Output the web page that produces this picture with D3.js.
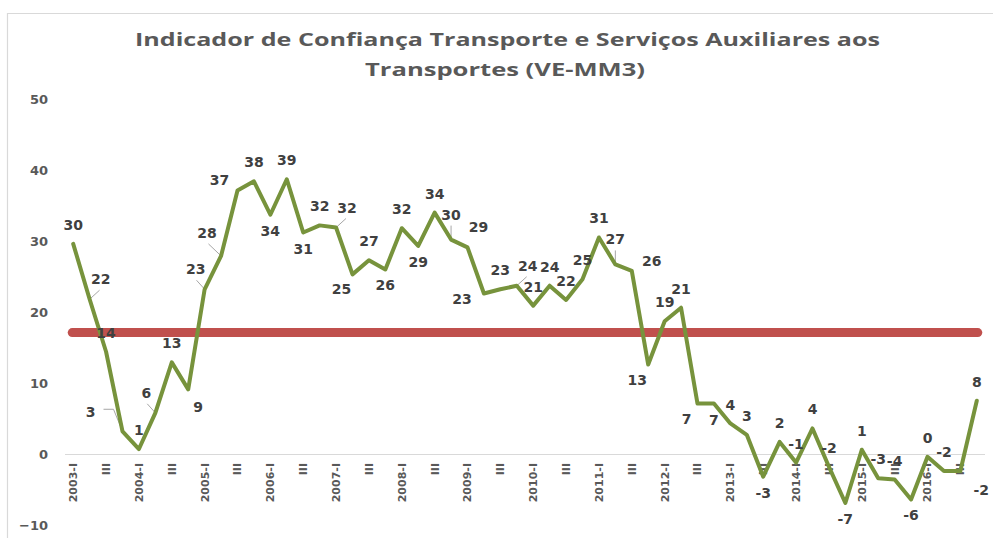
<!DOCTYPE html>
<html>
<head>
<meta charset="utf-8">
<script src="https://cdn.jsdelivr.net/npm/d3@7"></script>
<style>
  html, body { margin: 0; padding: 0; background: #fff; }
  svg { display: block; }
</style>
</head>
<body>
<svg id="chart" width="994" height="538"></svg>
<script>
// ---- DATA ----
const years = d3.range(2003, 2017);
const quarters = ["I", "II", "III", "IV"];
const categories = years.flatMap(y => quarters.map(q => (q === "I" ? y + "-I" : q + "|" + y)));
const values = [
  29.6, 21.8, 14.4, 3.2, 0.7, 5.8, 12.9, 9.1,
  23.2, 27.9, 37.1, 38.4, 33.7, 38.7, 31.2, 32.2,
  31.9, 25.3, 27.3, 26.0, 31.8, 29.3, 34.0, 30.2,
  29.1, 22.6, 23.2, 23.7, 20.9, 23.7, 21.7, 24.6,
  30.5, 26.7, 25.8, 12.6, 18.7, 20.6, 7.1, 7.1,
  4.3, 2.7, -3.2, 1.7, -1.2, 3.6, -1.8, -6.9,
  0.6, -3.4, -3.6, -6.4, -0.4, -2.4, -2.4, 7.5
];
const referenceValue = [17.1];
const yTicks = [-10, 0, 10, 20, 30, 40, 50];
const titleLines = ["Indicador de Confiança Transporte e Serviços Auxiliares aos", "Transportes (VE-MM3)"];
// label placement codes (Excel-style auto placement)
const labelPlacement = [
  "t","trL","t","L","t","tlL","t","br",
  "tlL","tl2L","le","t","b","t","b","t",
  "trL","bl","t","b","t","b","t","TL",
  "tr","lw","t","trL","t","t","t","t",
  "t","TL","R","bl","t","t","bl","b",
  "t","t","b","t","t","t","t","b",
  "t","t","t","b","t","t","BR","t"
];

// ---- LAYOUT ----
const svg = d3.select("#chart");
const W = 994, H = 538;
const placeOffsets = {
  t: [0, -19], b: [0, 16], tr: [11, -20], tl: [-9, -20], tl2: [-14, -23],
  bl: [-11, 15], br: [10, 18], BR: [21, 19], L: [-32, -19], le: [-18, -11],
  lw: [-22, 5], R: [20, -10], T: [0, -25]
};

// border (top and left visible)
svg.append("line").attr("x1", 7).attr("x2", 993).attr("y1", 13.5).attr("y2", 13.5)
  .attr("stroke", "#d9d9d9").attr("stroke-width", 1.2);
svg.append("line").attr("x1", 7.5).attr("x2", 7.5).attr("y1", 13).attr("y2", H)
  .attr("stroke", "#d9d9d9").attr("stroke-width", 1.2);

// title
const titleG = svg.append("g");
const titleSpecs = [{ y: 46, x0: 135, x1: 880 }, { y: 76, x0: 365, x1: 645 }];
titleLines.forEach((t, i) => {
  const s = titleSpecs[i];
  titleG.append("text")
    .attr("x", s.x0).attr("y", s.y)
    .attr("textLength", s.x1 - s.x0)
    .attr("lengthAdjust", "spacingAndGlyphs")
    .attr("font-family", "'Open Sans', 'DejaVu Sans', sans-serif")
    .attr("font-weight", "bold")
    .attr("font-size", 17)
    .attr("fill", "#595959")
    .text(t);
});

// scales
const x = d3.scaleBand().domain(categories).range([65, 985]);
const cx = c => x(c) + x.bandwidth() / 2;
const y = d3.scaleLinear().domain([-10, 50]).range([525, 99]);

// y axis labels
const yAxis = d3.axisLeft(y).tickValues(yTicks).tickSize(0).tickPadding(0).tickFormat(d3.format("d"));
const yG = svg.append("g").attr("transform", "translate(48,0)").call(yAxis);
yG.select(".domain").remove();
yG.selectAll("text")
  .attr("font-family", "'DejaVu Sans', Verdana, sans-serif")
  .attr("font-weight", "bold")
  .attr("font-size", 13)
  .attr("fill", "#595959");

// zero line
svg.append("line")
  .attr("x1", 65).attr("x2", 985)
  .attr("y1", Math.round(y(0)) + 0.5).attr("y2", Math.round(y(0)) + 0.5)
  .attr("stroke", "#d9d9d9").attr("stroke-width", 1);

// x axis labels (every other category)
const xAxis = d3.axisBottom(x)
  .tickValues(categories.filter((c, i) => i % 2 === 0))
  .tickSize(0)
  .tickFormat(c => c.includes("|") ? c.split("|")[0] : c);
const xG = svg.append("g").attr("transform", `translate(0,${y(0)})`).call(xAxis);
xG.select(".domain").remove();
xG.selectAll("text")
  .attr("font-family", "'DejaVu Sans', Verdana, sans-serif")
  .attr("font-weight", "bold")
  .attr("font-size", 11)
  .attr("fill", "#595959")
  .attr("text-anchor", "end")
  .attr("transform", "rotate(-90)")
  .attr("x", -9).attr("y", 0).attr("dy", "0.35em");

// reference line
svg.append("line")
  .attr("x1", cx(categories[0]) - 1).attr("x2", cx(categories[categories.length - 1]) + 1)
  .attr("y1", y(referenceValue[0])).attr("y2", y(referenceValue[0]))
  .attr("stroke", "#c0504d").attr("stroke-width", 9).attr("stroke-linecap", "round");

// leader lines
const pts = categories.map((c, i) => ({ c, v: values[i], px: cx(c), py: y(values[i]), code: labelPlacement[i] }));
const leaderG = svg.append("g").attr("stroke", "#a6a6a6").attr("stroke-width", 1).attr("fill", "none");
pts.forEach(p => {
  if (!p.code.endsWith("L")) return;
  const key = p.code.length > 1 ? p.code.slice(0, -1) : p.code;
  const [dx, dy] = placeOffsets[key];
  if (key === "L") {
    leaderG.append("polyline")
      .attr("points", [[p.px, p.py], [p.px + dx + 23, p.py + dy - 3], [p.px + dx + 13, p.py + dy - 3]].map(d => d.join(",")).join(" "));
  } else {
    leaderG.append("line")
      .attr("x1", p.px).attr("y1", p.py)
      .attr("x2", p.px + dx * 0.9).attr("y2", p.py + dy + 11);
  }
});

// main line
svg.append("path")
  .datum(pts)
  .attr("d", d3.line().x(d => d.px).y(d => d.py))
  .attr("fill", "none")
  .attr("stroke", "#77933c")
  .attr("stroke-width", 4)
  .attr("stroke-linejoin", "round")
  .attr("stroke-linecap", "round");

// data labels
const fmt = v => { const r = Math.round(v); return (r === 0 ? 0 : r).toString(); };
const keyOf = p => (p.code.endsWith("L") && p.code.length > 1 ? p.code.slice(0, -1) : p.code);
svg.append("g").selectAll("text").data(pts).join("text")
  .attr("x", p => p.px + placeOffsets[keyOf(p)][0])
  .attr("y", p => p.py + placeOffsets[keyOf(p)][1])
  .attr("dy", "0.36em")
  .attr("text-anchor", "middle")
  .attr("font-family", "'DejaVu Sans', Verdana, sans-serif")
  .attr("font-weight", "bold")
  .attr("font-size", 14)
  .attr("fill", "#404040")
  .text(p => fmt(p.v));
</script>
</body>
</html>
